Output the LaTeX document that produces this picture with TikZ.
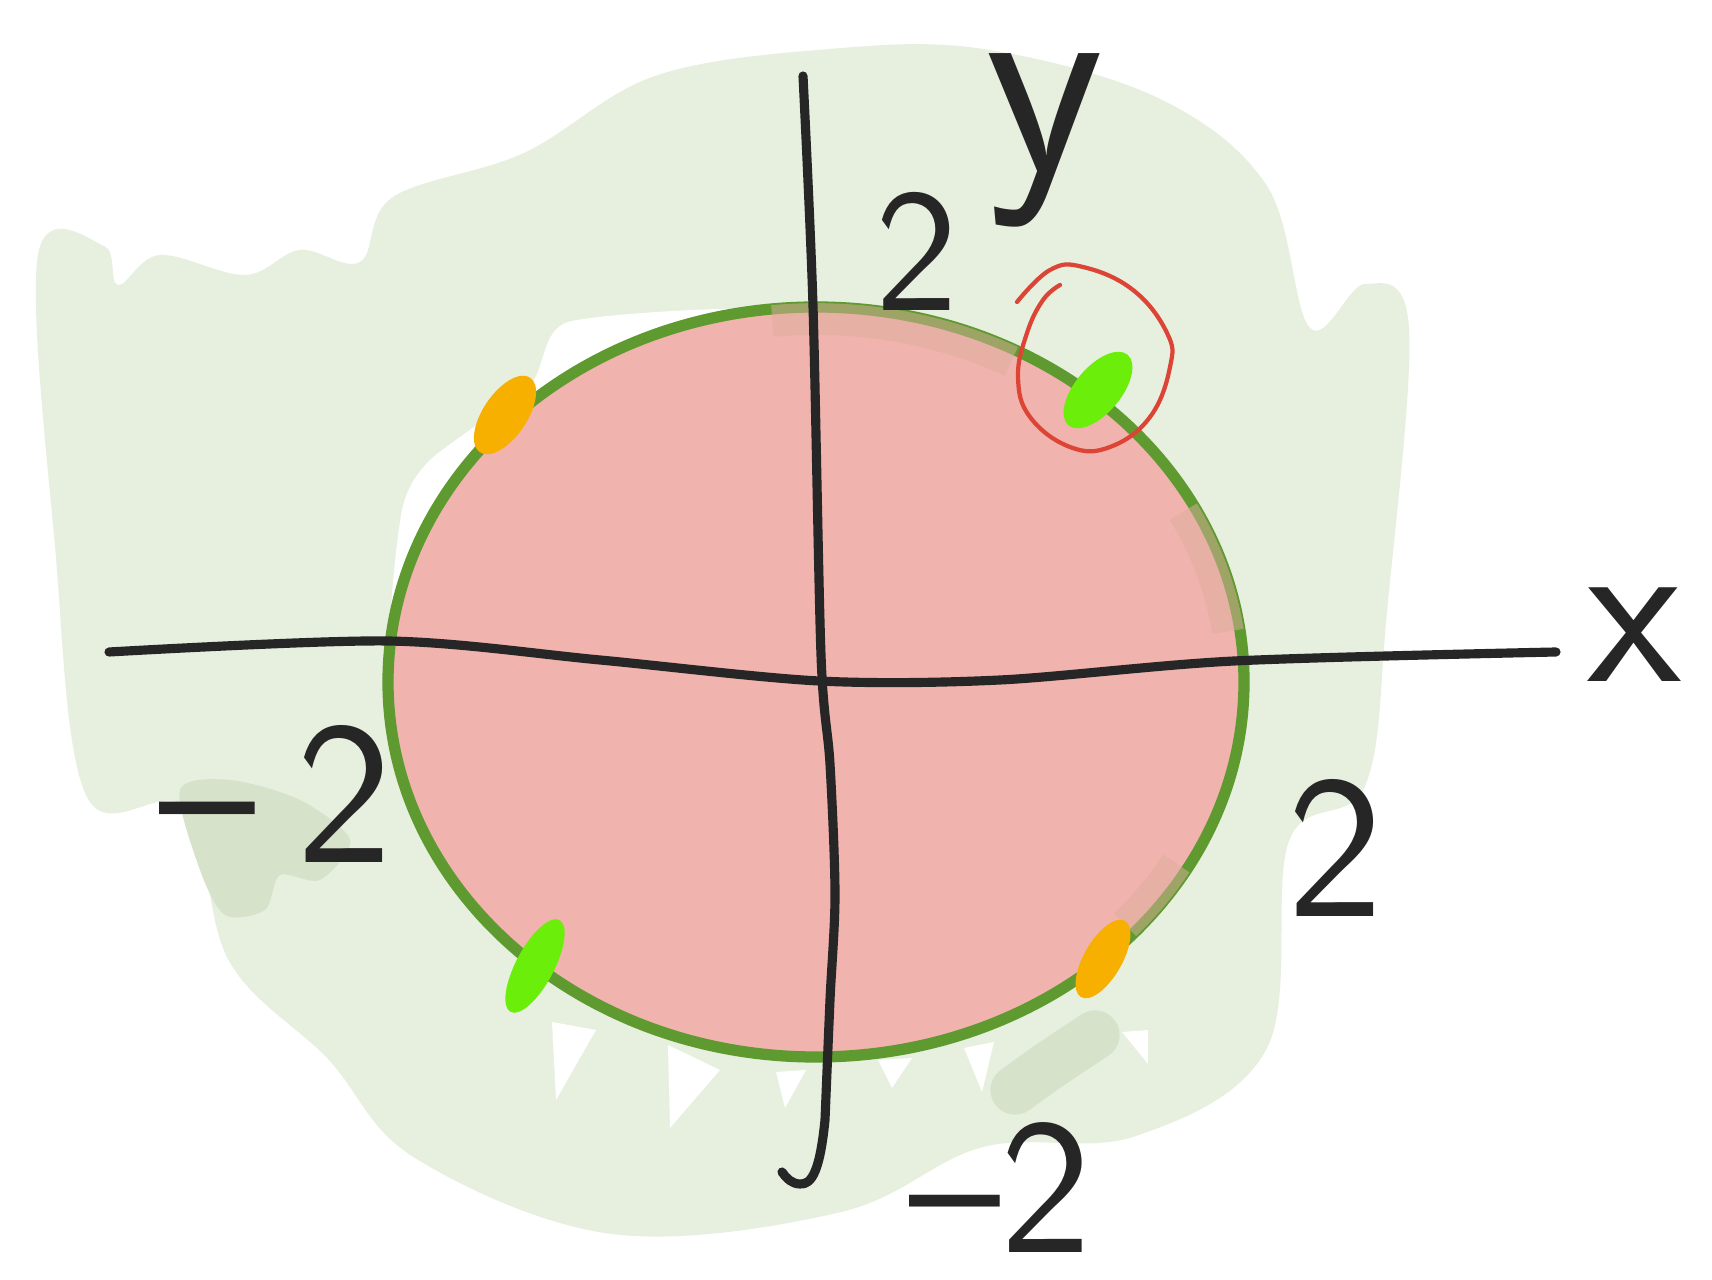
\documentclass[tikz,border=0pt]{standalone}
\usepackage{tikz}
\usetikzlibrary{positioning}

\definecolor{wash}{HTML}{E7EFDE}
\definecolor{washdark}{HTML}{D6E2CA}
\definecolor{disc}{HTML}{F0B3AE}
\definecolor{discshade}{HTML}{DDAE9E}
\definecolor{rim}{HTML}{5E9A2F}
\definecolor{dotorange}{HTML}{F8B000}
\definecolor{dotgreen}{HTML}{6AEE0A}
\definecolor{ringred}{HTML}{DC4435}
\definecolor{ink}{HTML}{262626}

\begin{document}
\begin{tikzpicture}[
    x=0.01cm, y=-0.01cm,
    axis/.style={draw=ink, line width=2.6pt, line cap=round, line join=round},
    lbl/.style={text=ink, anchor=base, inner sep=0pt, font=\sffamily\fontsize{58}{58}\selectfont},
    gap/.style={fill=white},
    shade/.style={draw=discshade, line width=9pt, opacity=0.5}
  ]
    \useasboundingbox (0,0) rectangle (1712,1280);
    \fill[white] (0,0) rectangle (1712,1280);

    % green wash behind the disc
    \fill[wash] plot[smooth cycle, tension=0.6] coordinates {
      (38,255) (104,246) (118,285) (160,255) (245,275) (300,250) (360,262)
      (393,197) (524,153) (655,76) (830,49) (983,49) (1158,98) (1267,186)
      (1310,328) (1365,284) (1409,328) (1387,611) (1365,786) (1289,841)
      (1267,1048) (1136,1136) (983,1147) (841,1212) (612,1234) (415,1158)
      (328,1059) (229,961) (186,808) (87,797) (55,546)};
    \fill[washdark] plot[smooth cycle] coordinates {
      (180,790) (230,780) (300,800) (350,840) (320,880) (280,875) (265,910) (225,915) (200,870)};
    \draw[washdark, line width=14pt, line cap=round] plot[smooth] coordinates {(1095,1035) (1050,1065) (1015,1090)};

    % white gaps left in the wash
    \fill[gap] plot[smooth cycle, tension=0.4] coordinates {
      (770,312) (568,322) (530,385) (430,460) (402,510) (392,640) (450,640) (600,400)};
    \fill[gap] (552,1022) -- (596,1030) -- (556,1100) -- cycle;
    \fill[gap] (668,1045) -- (720,1070) -- (670,1128) -- cycle;
    \fill[gap] (776,1072) -- (806,1070) -- (785,1108) -- cycle;
    \fill[gap] (878,1060) -- (912,1058) -- (892,1088) -- cycle;
    \fill[gap] (964,1048) -- (994,1042) -- (982,1092) -- cycle;
    \fill[gap] (1122,1032) -- (1148,1030) -- (1148,1064) -- cycle;

    % disc
    \filldraw[fill=disc, draw=rim, line width=3.2pt] (816,682) ellipse [x radius=428, y radius=375];
    \draw[shade] (816,682) ++(-96:416 and 363) arc[start angle=-96, end angle=-62, x radius=416, y radius=363];
    \draw[shade] (816,682) ++(-28:416 and 363) arc[start angle=-28, end angle=-8, x radius=416, y radius=363];
    \draw[shade] (816,682) ++(30:416 and 363) arc[start angle=30, end angle=42, x radius=416, y radius=363];

    % axes
    \coordinate (xl) at (109,652);
    \coordinate (xr) at (1556,652);
    \coordinate (yt) at (803,76);
    \coordinate (yb) at (782,1172);
    \draw[axis] plot[smooth] coordinates {(xl) (388,641) (600,660) (819,681) (1000,680) (1234,661) (xr)};
    \draw[axis] plot[smooth] coordinates {(yt) (813,306) (821,655) (830,764) (835,895) (830,1000) (825,1120)}
      .. controls (820,1170) and (812,1185) .. (800,1184) .. controls (792,1184) and (786,1178) .. (yb);

    % marked points on the rim
    \fill[dotorange, rotate around={56:(505,415)}] (505,415) ellipse [x radius=45, y radius=22];
    \fill[dotgreen, rotate around={50:(1098,390)}] (1098,390) ellipse [x radius=46, y radius=23];
    \fill[dotgreen, rotate around={62:(535,966)}] (535,966) ellipse [x radius=52, y radius=19];
    \fill[dotorange, rotate around={60:(1103,959)}] (1103,959) ellipse [x radius=44, y radius=19];

    % red ring round the chosen point
    \draw[ringred, line width=1.2pt, line cap=round] plot[smooth, tension=0.7] coordinates {
      (1017,302) (1050,270) (1083,267) (1133,290) (1167,333) (1170,367) (1150,417)
      (1110,447) (1070,447) (1030,417) (1018,377) (1027,333) (1043,300) (1060,285)};

    % labels
    \node[lbl, font=\sffamily\fontsize{78}{78}\selectfont] (ylbl) at (1045,172) {y};
    \node[lbl, font=\sffamily\fontsize{62}{62}\selectfont] (xlbl) at (1635,682) {x};
    \node[lbl, font=\sffamily\fontsize{50}{50}\selectfont] (ytop) at (917,311) {2};
    \node[lbl] (xneg) at (276,863) {\textendash\hspace{0.2em}2};
    \node[lbl] (xpos) at (1335,917) {2};
    \node[lbl, font=\sffamily\fontsize{55}{55}\selectfont] (ybot) at (1000,1252) {\textendash2};
  \end{tikzpicture}
\end{document}
